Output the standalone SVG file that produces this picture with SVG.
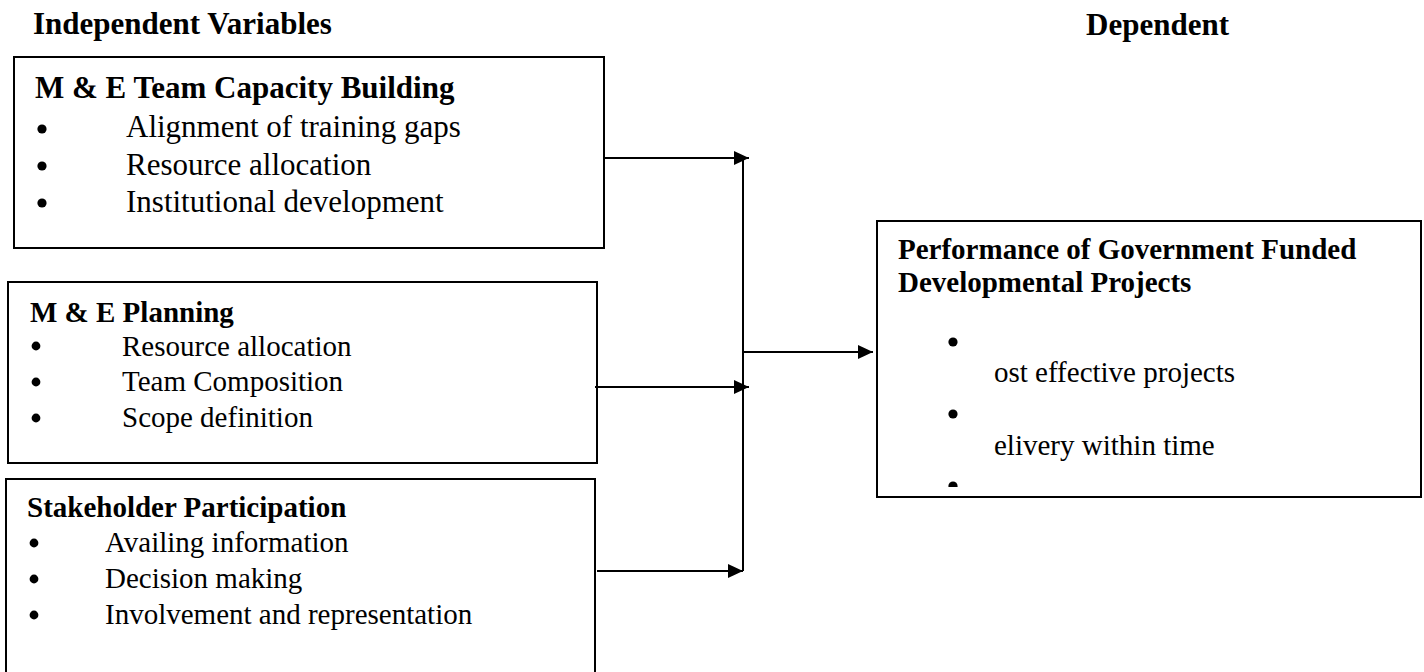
<svg xmlns="http://www.w3.org/2000/svg" width="1424" height="672" viewBox="0 0 1424 672">
  <style>
    text { font-family: "Liberation Serif", "Times New Roman", serif; fill: #000; }
    .h { font-weight: bold; }
    .box { fill: #fff; stroke: #000; stroke-width: 2; }
    .con { fill: none; stroke: #000; stroke-width: 2; }
    .f31 { font-size: 31px; }
    .f29 { font-size: 29px; }
  </style>
  <defs>
    <marker id="ah" markerWidth="16" markerHeight="14" refX="15" refY="7" orient="auto" markerUnits="userSpaceOnUse">
      <path d="M0,0 L15,7 L0,14 Z" fill="#000"/>
    </marker>
    <clipPath id="clip4">
      <rect x="878" y="222" width="542" height="265"/>
    </clipPath>
  </defs>
  <rect width="1424" height="672" fill="#fff"/>

  <g id="title-independent">
    <text class="h f31" x="33" y="34">Independent Variables</text>
  </g>
  <g id="title-dependent">
    <text class="h f31" x="1086" y="35">Dependent</text>
  </g>

  <g id="node-capacity">
    <rect class="box" x="14" y="57" width="590" height="191"/>
    <text class="h f31" x="35" y="98">M &amp; E Team Capacity Building</text>
    <circle cx="42" cy="129" r="4.6"/>
    <circle cx="42" cy="166" r="4.6"/>
    <circle cx="42" cy="203" r="4.6"/>
    <text class="f31" x="126" y="137">Alignment of training gaps</text>
    <text class="f31" x="126" y="175">Resource allocation</text>
    <text class="f31" x="126" y="212">Institutional development</text>
  </g>

  <g id="node-planning">
    <rect class="box" x="8" y="282" width="589" height="181"/>
    <text class="h f29" x="30" y="322">M &amp; E Planning</text>
    <circle cx="36" cy="346" r="4.4"/>
    <circle cx="36" cy="382" r="4.4"/>
    <circle cx="36" cy="418" r="4.4"/>
    <text class="f29" x="122" y="356">Resource allocation</text>
    <text class="f29" x="122" y="391">Team Composition</text>
    <text class="f29" x="122" y="427">Scope definition</text>
  </g>

  <g id="node-stakeholder">
    <rect class="box" x="6" y="479" width="589" height="230"/>
    <text class="h f29" x="27" y="517">Stakeholder Participation</text>
    <circle cx="34" cy="543" r="4.4"/>
    <circle cx="34" cy="579" r="4.4"/>
    <circle cx="34" cy="615" r="4.4"/>
    <text class="f29" x="105" y="552">Availing information</text>
    <text class="f29" x="105" y="588">Decision making</text>
    <text class="f29" x="105" y="624">Involvement and representation</text>
  </g>

  <g id="node-performance">
    <rect class="box" x="877" y="221" width="544" height="276"/>
    <text class="h f29" x="898" y="259">Performance of Government Funded</text>
    <text class="h f29" x="898" y="292">Developmental Projects</text>
    <g clip-path="url(#clip4)">
      <circle cx="953" cy="342" r="4.6"/>
      <circle cx="953" cy="414" r="4.6"/>
      <circle cx="953" cy="486" r="4.6"/>
    </g>
    <text class="f29" x="994" y="382">ost effective projects</text>
    <text class="f29" x="994" y="455">elivery within time</text>
  </g>

  <g id="connectors">
    <path class="con" d="M604,158 H749" marker-end="url(#ah)"/>
    <path class="con" d="M595,387 H749" marker-end="url(#ah)"/>
    <path class="con" d="M597,571 H743" marker-end="url(#ah)"/>
    <path class="con" d="M743,158 V571"/>
    <path class="con" d="M743,352 H873" marker-end="url(#ah)"/>
  </g>
</svg>
